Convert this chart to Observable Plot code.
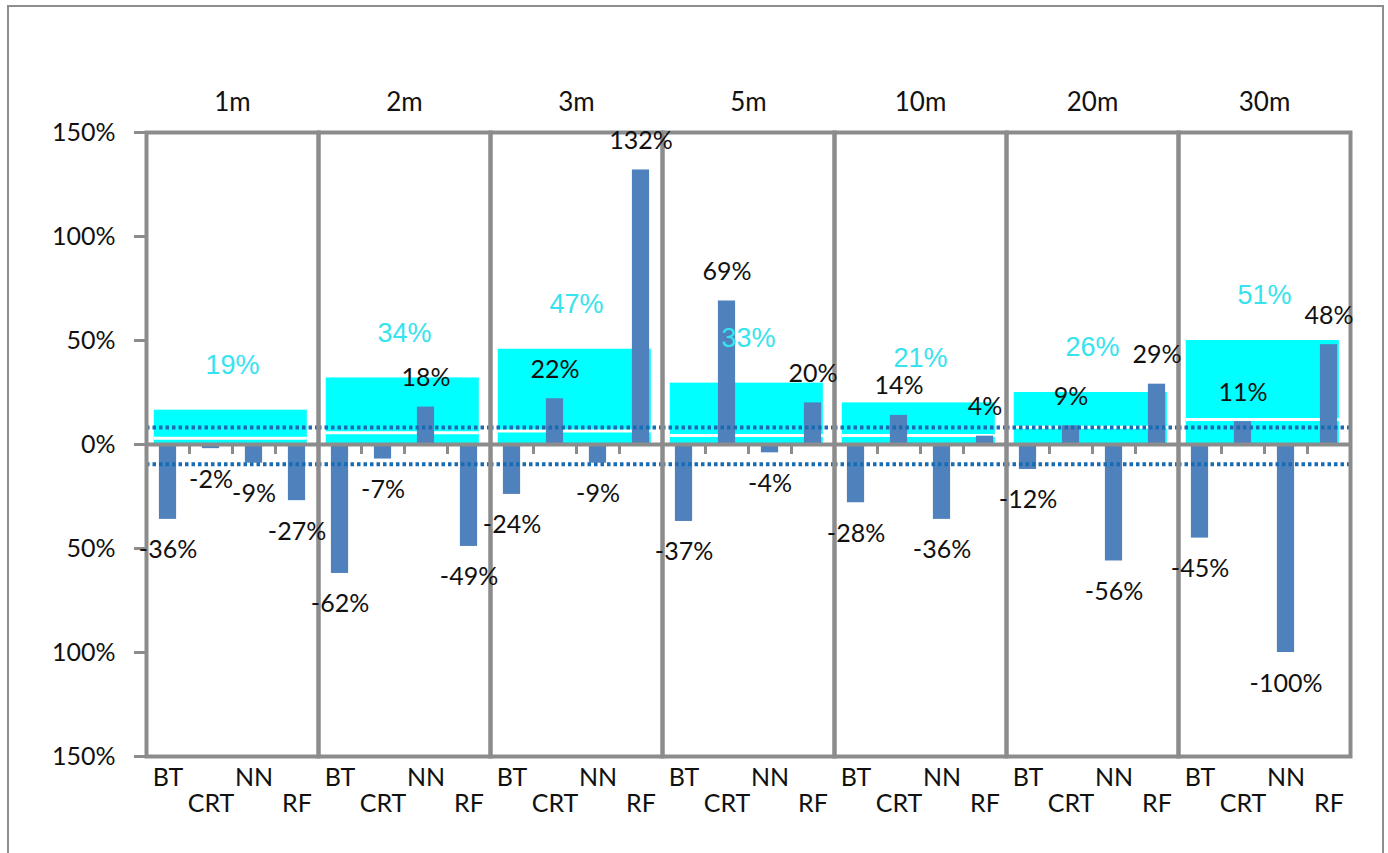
<!DOCTYPE html>
<html><head><meta charset="utf-8">
<script src="https://cdn.jsdelivr.net/npm/d3@7"></script>
<script src="https://cdn.jsdelivr.net/npm/@observablehq/plot@0.6"></script>
<style>
html,body{margin:0;padding:0;background:#fff;overflow:hidden;}
#wrap{position:relative;width:1388px;height:853px;}
#border{position:absolute;left:7px;top:5px;width:1377px;height:900px;border:2px solid #8e8e8e;box-sizing:border-box;pointer-events:none;}
</style></head><body>
<div id="wrap"><div id="chart"></div><div id="border"></div></div>
<script>
const periods = ["1m","2m","3m","5m","10m","20m","30m"];
const models = ["BT","CRT","NN","RF"];
const btValues  = [-36,-62,-24,-37,-28,-12,-45];
const crtValues = [-2,-7,22,69,14,9,11];
const nnValues  = [-9,18,-9,-4,-36,-56,-100];
const rfValues  = [-27,-49,132,20,4,29,48];
const boxTops   = [16.5,32,45.8,29.5,20,25,50];
const boxLabels = [19,34,47,33,21,26,51];
const whiteLines = [3,5.6,6.5,4.3,4.3,8.3,12];
const upperLimit = 8.2;
const lowerLimit = -9.5;
const yTicks = [-150,-100,-50,0,50,100,150];

const seriesByModel = [btValues, crtValues, nnValues, rfValues];
const rows = [];
periods.forEach((p, i) => {
  seriesByModel.forEach((arr, j) => rows.push({period: p, model: models[j], idx: j, value: arr[i]}));
});
const boxes = periods.map((p, i) => ({period: p, top: boxTops[i], label: boxLabels[i], white: whiteLines[i]}));
const modelRows = periods.flatMap(p => models.map((m, j) => ({period: p, model: m, idx: j})));
const bounds = periods.flatMap(p => models.slice(1).map((m, j) => ({period: p, b: j + 0.5})));
const limits = periods.flatMap(p => [upperLimit, lowerLimit].map(v => ({period: p, v})));
const zeroRows = periods.map(p => ({period: p}));

const plot = Plot.plot({
  width: 1388, height: 853,
  marginLeft: 145, marginRight: 38, marginTop: 132, marginBottom: 97,
  style: {fontFamily: "Lato, sans-serif", background: "transparent", color: "#111"},
  fx: {domain: periods, padding: 0, axis: null},
  x: {domain: [-0.5, 3.5], axis: null},
  y: {domain: [-150, 150], axis: null},
  marks: [
    Plot.rect(boxes, {fx: "period", x1: () => -0.32, x2: () => 3.24, y1: () => 0, y2: "top", fill: "#00ffff"}),
    Plot.ruleY(boxes, {fx: "period", y: "white", x1: () => -0.32, x2: () => 3.24, stroke: "#ffffff", strokeWidth: 3}),
    Plot.rect(rows, {fx: "period", x1: d => d.idx - 0.2, x2: d => d.idx + 0.2, y1: () => 0, y2: "value", fill: "#4f81bd"}),
    Plot.ruleY(limits, {fx: "period", y: "v", stroke: "#1a6cb2", strokeWidth: 4, strokeDasharray: "3.5,3"}),
    Plot.ruleY(zeroRows, {fx: "period", y: () => 0, stroke: "#8c8c8c", strokeWidth: 4}),
    Plot.ruleX(bounds, {fx: "period", x: "b", y1: () => 0, y2: () => 0, insetBottom: -10, stroke: "#8c8c8c", strokeWidth: 3}),
    Plot.frame({stroke: "#8c8c8c", strokeWidth: 4}),
    Plot.axisY({ticks: yTicks, tickFormat: d => Math.abs(d) + "%", tickSize: 12, tickPadding: 19, fontSize: 25,
      stroke: "#8c8c8c", strokeWidth: 3, fill: "#111", label: null}),
    Plot.text(periods, {fx: d => d, x: () => 1.5, y: () => 150, text: d => d, dy: -30, fontSize: 26, fill: "#111"}),
    Plot.text(boxes, {fx: "period", x: () => 1.5, y: "top", text: d => d.label + "%", dy: -45, fill: "#36e3ee", fontSize: 27, fontFamily: "Liberation Sans, Arial, sans-serif"}),
    Plot.text(rows.filter(d => d.value >= 0), {fx: "period", x: "idx", y: "value", text: d => d.value + "%", dy: -29, fontSize: 25, fill: "#111"}),
    Plot.text(rows.filter(d => d.value < 0), {fx: "period", x: "idx", y: "value", text: d => d.value + "%", dy: 31, fontSize: 25, fill: "#111"}),
    Plot.text(modelRows.filter(d => d.idx % 2 === 0), {fx: "period", x: "idx", y: () => -150, text: "model", dy: 21, fontSize: 25, fill: "#111"}),
    Plot.text(modelRows.filter(d => d.idx % 2 === 1), {fx: "period", x: "idx", y: () => -150, text: "model", dy: 47, fontSize: 25, fill: "#111"})
  ]
});
document.getElementById("chart").appendChild(plot);
</script>
</body></html>
